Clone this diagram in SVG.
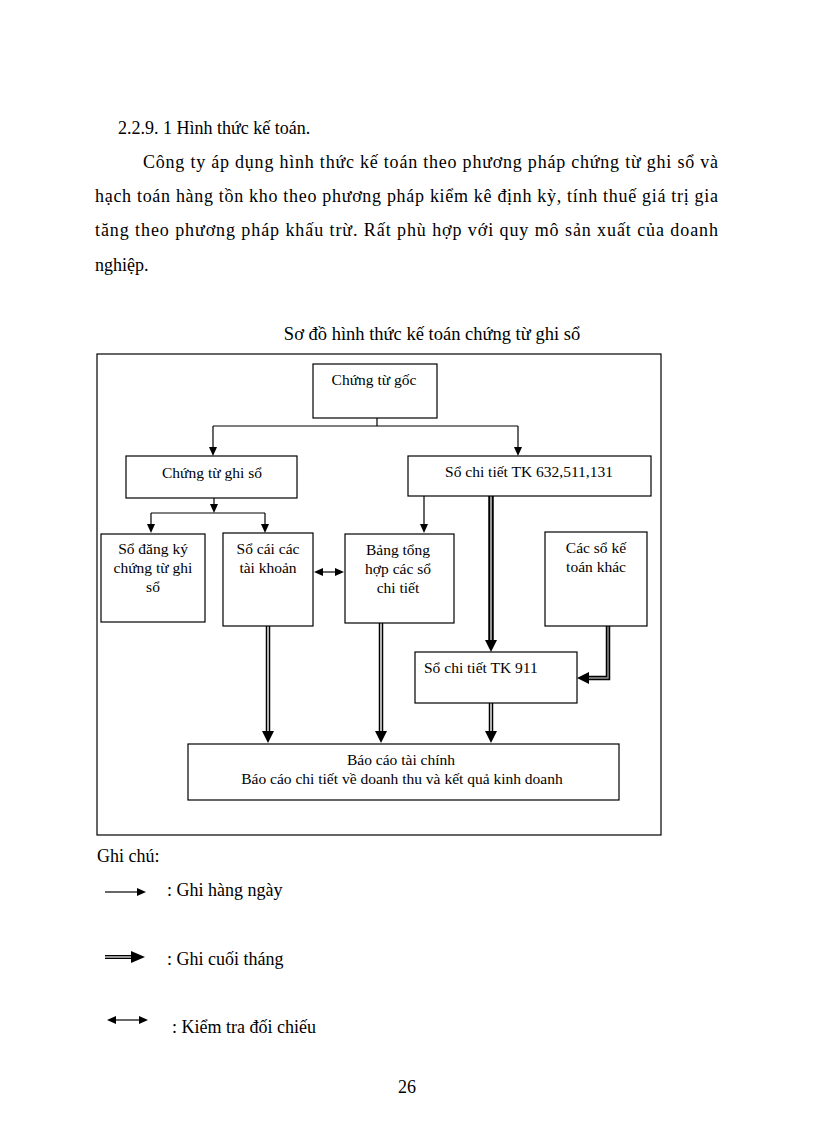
<svg xmlns="http://www.w3.org/2000/svg" width="816" height="1123" viewBox="0 0 816 1123">
<style>
text{font-family:"Liberation Serif","Times New Roman",serif;fill:#000}
.body{font-size:18px}
.bx{font-size:15.5px}
.m{text-anchor:middle}
rect.n{fill:#fff;stroke:#000;stroke-width:1.2}
.thin{fill:none;stroke:#000;stroke-width:1.2}
.dbo{fill:none;stroke:#000;stroke-width:4.5}
.dbi{fill:none;stroke:#fff;stroke-width:1.4}
.dbo2{fill:none;stroke:#000;stroke-width:5.5}
.dbi2{fill:none;stroke:#fff;stroke-width:1.2}
</style>
<defs>
<marker id="a" markerUnits="userSpaceOnUse" markerWidth="9" markerHeight="9" refX="0" refY="4" orient="auto-start-reverse" viewBox="0 0 9 8"><path d="M0,0 L9,4 L0,8 z" fill="#000"/></marker>
<marker id="b" markerUnits="userSpaceOnUse" markerWidth="12" markerHeight="12" refX="0" refY="6" orient="auto" viewBox="0 0 12 12"><path d="M0,0 L12,6 L0,12 z" fill="#000"/></marker>
</defs>
<rect width="816" height="1123" fill="#fff"/>

<g id="body-text">
<text class="body" x="118" y="134">2.2.9. 1 Hình thức kế toán.</text>
<text class="body" x="143" y="168" textLength="575" lengthAdjust="spacing">Công ty áp dụng hình thức kế toán theo phương pháp chứng từ ghi sổ và</text>
<text class="body" x="95" y="202" textLength="623" lengthAdjust="spacing">hạch toán hàng tồn kho theo phương pháp kiểm kê định kỳ, tính thuế giá trị gia</text>
<text class="body" x="95" y="236" textLength="623" lengthAdjust="spacing">tăng theo phương pháp khấu trừ. Rất phù hợp với quy mô sản xuất của doanh</text>
<text class="body" x="95" y="271">nghiệp.</text>
<text class="body m" x="432" y="340" style="font-size:18.5px">Sơ đồ hình thức kế toán chứng từ ghi sổ</text>
</g>

<rect id="frame" x="97" y="354" width="564" height="481" fill="none" stroke="#000" stroke-width="1.2"/>

<g id="connectors">
<path class="thin" d="M377,418 V426 M213,426 H518"/>
<path class="thin" d="M213,426 V447" marker-end="url(#a)"/>
<path class="thin" d="M518,426 V447" marker-end="url(#a)"/>
<path class="thin" d="M214,498 V504" marker-end="url(#a)"/>
<path class="thin" d="M151,513 H265"/>
<path class="thin" d="M151,513 V524" marker-end="url(#a)"/>
<path class="thin" d="M265,513 V524" marker-end="url(#a)"/>
<path class="thin" d="M424,496 V524" marker-end="url(#a)"/>
<path class="thin" d="M323,572 H335" marker-start="url(#a)" marker-end="url(#a)"/>
<path class="dbo" d="M268,626 V731" marker-end="url(#b)"/>
<path class="dbi" d="M268,626 V731"/>
<path class="dbo" d="M381,623 V731" marker-end="url(#b)"/>
<path class="dbi" d="M381,623 V731"/>
<path class="dbo2" d="M491,496 V640" marker-end="url(#b)"/>
<path class="dbi2" d="M491,496 V640"/>
<path class="dbo" d="M491,703 V731" marker-end="url(#b)"/>
<path class="dbi" d="M491,703 V731"/>
<path class="dbo" d="M608,626 V678 H589" marker-end="url(#b)"/>
<path d="M608,626 V678 H589" fill="none" stroke="#999" stroke-width="1.4"/>
</g>

<g id="n-chung-tu-goc">
<rect class="n" x="313" y="364" width="124" height="54"/>
<text class="bx m" x="374" y="385">Chứng từ gốc</text>
</g>
<g id="n-chung-tu-ghi-so">
<rect class="n" x="126" y="456" width="171" height="42"/>
<text class="bx m" x="212" y="478">Chứng từ ghi sổ</text>
</g>
<g id="n-so-chi-tiet-tk">
<rect class="n" x="408" y="456" width="243" height="40"/>
<text class="bx m" x="529" y="477">Sổ chi tiết TK 632,511,131</text>
</g>
<g id="n-so-dang-ky">
<rect class="n" x="101" y="534" width="104" height="88"/>
<text class="bx m" x="153" y="554">Sổ đăng ký</text>
<text class="bx m" x="153" y="573">chứng từ ghi</text>
<text class="bx m" x="153" y="592">sổ</text>
</g>
<g id="n-so-cai">
<rect class="n" x="223" y="533" width="90" height="93"/>
<text class="bx m" x="268" y="554">Sổ cái các</text>
<text class="bx m" x="268" y="573">tài khoản</text>
</g>
<g id="n-bang-tong-hop">
<rect class="n" x="345" y="534" width="109" height="89"/>
<text class="bx m" x="398" y="555">Bảng tổng</text>
<text class="bx m" x="398" y="574">hợp các sổ</text>
<text class="bx m" x="398" y="593">chi tiết</text>
</g>
<g id="n-cac-so-khac">
<rect class="n" x="545" y="532" width="102" height="94"/>
<text class="bx m" x="596" y="553">Các sổ kế</text>
<text class="bx m" x="596" y="572">toán khác</text>
</g>
<g id="n-tk-911">
<rect class="n" x="415" y="652" width="162" height="51"/>
<text class="bx" x="424" y="673">Sổ chi tiết TK 911</text>
</g>
<g id="n-bao-cao">
<rect class="n" x="188" y="744" width="431" height="56"/>
<text class="bx m" x="401" y="765">Báo cáo tài chính</text>
<text class="bx m" x="402" y="784">Báo cáo chi tiết về doanh thu và kết quả kinh doanh</text>
</g>

<g id="legend">
<text class="body" x="97" y="862">Ghi chú:</text>
<path class="thin" d="M105,892 H137" marker-end="url(#a)"/>
<text class="body" x="167" y="896">: Ghi hàng ngày</text>
<path d="M105,957 H131" fill="none" stroke="#000" stroke-width="4"/>
<path d="M105,957 H131" fill="none" stroke="#fff" stroke-width="1.2"/>
<path d="M131,951 L145,957 L131,963 z" fill="#000"/>
<text class="body" x="167" y="965">: Ghi cuối tháng</text>
<path class="thin" d="M116,1020 H139" marker-start="url(#a)" marker-end="url(#a)"/>
<text class="body" x="172" y="1033">: Kiểm tra đối chiếu</text>
</g>

<text id="page-number" class="body m" x="407" y="1093">26</text>
</svg>
